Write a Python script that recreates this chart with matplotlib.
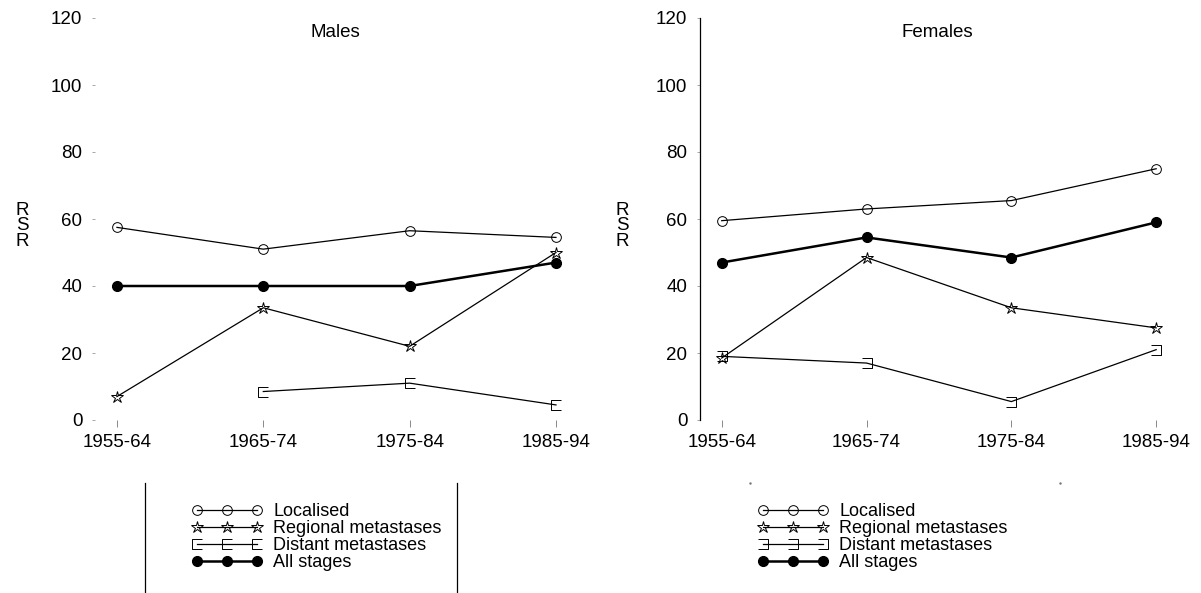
import numpy as np
import matplotlib.pyplot as plt
from matplotlib.path import Path
from matplotlib.lines import Line2D

plt.rcParams['font.family'] = ['Liberation Sans', 'DejaVu Sans']

# data
periods = ["1955-64", "1965-74", "1975-84", "1985-94"]
labels = ["Localised", "Regional metastases", "Distant metastases", "All stages"]

male_localised = [57.5, 51, 56.5, 54.5]
male_regional = [7, 33.5, 22, 50]
male_distant = [np.nan, 8.5, 11, 4.5]
male_all = [40, 40, 40, 47]

female_localised = [59.5, 63, 65.5, 75]
female_regional = [18.5, 48.5, 33.5, 27.5]
female_distant = [19, 17, 5.5, 21]
female_all = [47, 54.5, 48.5, 59]

FS = 13.5

# bracket shaped markers for distant metastases
bracket_l = Path([(1, 1), (-1, 1), (-1, -1), (1, -1)],
                 [Path.MOVETO, Path.LINETO, Path.LINETO, Path.LINETO])
bracket_r = Path([(-1, 1), (1, 1), (1, -1), (-1, -1)],
                 [Path.MOVETO, Path.LINETO, Path.LINETO, Path.LINETO])

fig = plt.figure(figsize=(12.01, 5.93), dpi=100)
bottom = 1 - 420 / 593
height = (420 - 18) / 593
ax1 = fig.add_axes([95 / 1201, bottom, 480 / 1201, height])
ax2 = fig.add_axes([700 / 1201, bottom, 475 / 1201, height])

x = np.arange(len(periods))


def draw_panel(ax, loc, reg, dist, allst, bracket, title, show_spine):
    thin = dict(color="black", lw=0.9, markersize=7, markerfacecolor="none",
                markeredgecolor="black", markeredgewidth=0.7)
    h1, = ax.plot(x, loc, marker="o", **thin)
    h2, = ax.plot(x, reg, marker="*", **dict(thin, markersize=9))
    h3, = ax.plot(x, dist, marker=bracket, **thin)
    h4, = ax.plot(x, allst, color="black", lw=1.8, marker="o", markersize=7,
                  markerfacecolor="black", markeredgecolor="black")
    ax.set_ylim(0, 120)
    ax.set_xlim(-0.15, 3.13)
    ax.set_xticks(x)
    ax.set_xticklabels(periods, fontsize=FS)
    ax.set_yticks(np.arange(0, 121, 20))
    ax.tick_params(axis="y", labelsize=FS, length=2, width=0.6, color="#999999", pad=7)
    ax.tick_params(axis="x", length=5, width=0.6, color="#777777", pad=5)
    for s in ["top", "right", "bottom"]:
        ax.spines[s].set_visible(False)
    ax.spines["left"].set_visible(show_spine)
    ax.spines["left"].set_linewidth(0.9)
    ax.text(0.5, 0.965, title, transform=ax.transAxes, ha="center", va="center",
            fontsize=FS)
    return [h1, h2, h3, h4]


hm = draw_panel(ax1, male_localised, male_regional, male_distant, male_all,
                bracket_l, "Males", False)
hf = draw_panel(ax2, female_localised, female_regional, female_distant, female_all,
                bracket_r, "Females", True)

fig.text(22 / 1201, 1 - 226 / 593, "R\nS\nR", ha="center", va="center",
         fontsize=FS, linespacing=0.88)
fig.text(622 / 1201, 1 - 226 / 593, "R\nS\nR", ha="center", va="center",
         fontsize=FS, linespacing=0.88)

leg_kw = dict(frameon=False, fontsize=13, numpoints=3, handlelength=3.9,
              handletextpad=0.6, labelspacing=0.0, borderpad=0, borderaxespad=0,
              loc="upper left")
fig.legend(hm, labels, bbox_to_anchor=(192 / 1201, 1 - 503 / 593), **leg_kw)
fig.legend(hf, labels, bbox_to_anchor=(758 / 1201, 1 - 503 / 593), **leg_kw)

# vertical rules around the male legend
for xp in [145, 457]:
    fig.add_artist(Line2D([xp / 1201, xp / 1201], [0, 1 - 483 / 593],
                          color="black", lw=0.9))
for xp in [750, 1060]:
    fig.add_artist(Line2D([xp / 1201], [1 - 483 / 593], marker=".",
                          markersize=1.5, color="#777777", lw=0))

fig.savefig("out.png", dpi=100)
